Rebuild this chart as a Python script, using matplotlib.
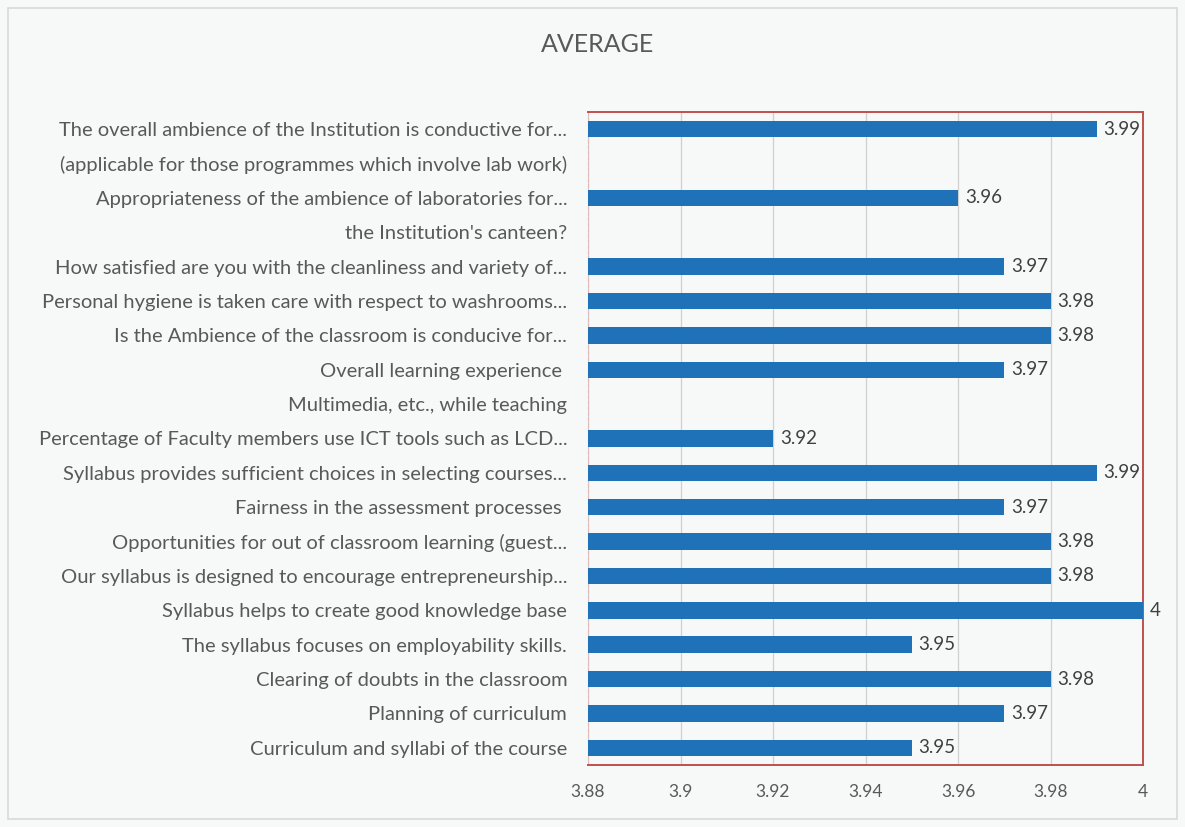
import numpy as np
import matplotlib.pyplot as plt
from matplotlib.patches import Rectangle

plt.rcParams['font.family'] = ['Lato', 'DejaVu Sans']

# categories top to bottom (empty value = wrapped label line, no bar)
categories = [
    'The overall ambience of the Institution is conductive for...',
    '(applicable for those programmes which involve lab work)',
    'Appropriateness of the ambience of laboratories for...',
    "the Institution's canteen?",
    'How satisfied are you with the cleanliness and variety of...',
    'Personal hygiene is taken care with respect to washrooms...',
    'Is the Ambience of the classroom is conducive for...',
    'Overall learning experience ',
    'Multimedia, etc., while teaching',
    'Percentage of Faculty members use ICT tools such as LCD...',
    'Syllabus provides sufficient choices in selecting courses...',
    'Fairness in the assessment processes ',
    'Opportunities for out of classroom learning (guest...',
    'Our syllabus is designed to encourage entrepreneurship...',
    'Syllabus helps to create good knowledge base',
    'The syllabus focuses on employability skills.',
    'Clearing of doubts in the classroom',
    'Planning of curriculum',
    'Curriculum and syllabi of the course',
]
values = [3.99, np.nan, 3.96, np.nan, 3.97, 3.98, 3.98, 3.97, np.nan, 3.92,
          3.99, 3.97, 3.98, 3.98, 4.00, 3.95, 3.98, 3.97, 3.95]
value_labels = ['3.99', '', '3.96', '', '3.97', '3.98', '3.98', '3.97', '', '3.92',
                '3.99', '3.97', '3.98', '3.98', '4', '3.95', '3.98', '3.97', '3.95']
xticks = [3.88, 3.90, 3.92, 3.94, 3.96, 3.98, 4.00]
xtick_labels = ['3.88', '3.9', '3.92', '3.94', '3.96', '3.98', '4']

W, H = 1185, 827
fig = plt.figure(figsize=(W / 100, H / 100), dpi=100, facecolor='#f7f8f8')
fig.patches.append(Rectangle((8 / W, 8 / H), 1 - 16 / W, 1 - 16 / H,
                             transform=fig.transFigure, fill=False,
                             edgecolor='#d9d9d9', linewidth=1.2))

left, right, top, bottom = 588, 1143, 112, 765
ax = fig.add_axes([left / W, 1 - bottom / H, (right - left) / W, (bottom - top) / H])
ax.set_facecolor('#f7f8f8')

y = np.arange(len(categories))
x0 = 3.88
vals = np.array(values)
ax.barh(y, vals - x0, left=x0, height=0.48, color='#1f72b8', zorder=3)

for yi, v, lab in zip(y, vals, value_labels):
    if np.isnan(v):
        continue
    ax.annotate(lab, (v, yi), xytext=(5, 0), textcoords='offset points',
                va='center', ha='left', fontsize=13.5, color='#404040',
                annotation_clip=False, zorder=4)

ax.set_xlim(3.88, 4.0)
ax.set_ylim(len(categories) - 0.5, -0.5)
ax.set_xticks(xticks)
ax.set_xticklabels(xtick_labels, fontsize=12.5, color='#595959')
ax.set_yticks(y)
ax.set_yticklabels(categories, fontsize=14.5, color='#595959')
ax.tick_params(axis='both', length=0)
ax.tick_params(axis='x', pad=14)
ax.tick_params(axis='y', pad=15)

ax.grid(axis='x', color='#d0d0d0', linewidth=0.9, zorder=0)
for side in ['top', 'right', 'bottom']:
    ax.spines[side].set_color('#c0504d')
    ax.spines[side].set_linewidth(1.4)
ax.spines['left'].set_color('#e3b8b8')
ax.spines['left'].set_linestyle((0, (3, 2)))

fig.text(598 / W, 1 - 45 / H, 'AVERAGE', ha='center', va='center',
         fontsize=18, color='#595959')

fig.savefig('out.png', dpi=100, facecolor=fig.get_facecolor())
